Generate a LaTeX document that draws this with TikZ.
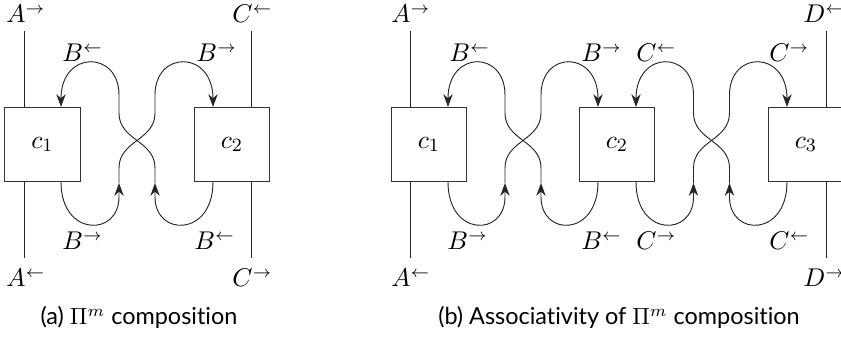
\documentclass[tikz,border=0pt]{standalone}
\usepackage{fontspec}
\setsansfont[Ligatures=NoCommon]{Lato}
\usetikzlibrary{arrows.meta,calc}
\newcommand\xpair[3]{%
  \pgfmathsetmacro\xm{(#1+#2)/2}%
  \pgfmathsetmacro\xa{\xm-18}%
  \pgfmathsetmacro\xb{\xm+18}%
  \coordinate (#3-lb) at (#1,182);
  \coordinate (#3-lt) at (#1,107);
  \coordinate (#3-rb) at (#2,182);
  \coordinate (#3-rt) at (#2,107);
  \coordinate (#3-am) at (\xa,183);
  \coordinate (#3-bm) at (\xb,183);
  \draw[wire,tip] (#3-lb) .. controls (#1,237) and (\xa,237) .. (\xa,197) -- (#3-am);
  \draw[wire,tip] (#3-am) -- (\xa,168) .. controls (\xa,140.5) and (\xb,140.5) .. (\xb,113) -- (\xb,95) .. controls (\xb,50) and (#2,50) .. (#3-rt);
  \draw[wire,tip] (#3-rb) .. controls (#2,237) and (\xb,237) .. (\xb,197) -- (#3-bm);
  \draw[wire,tip] (#3-bm) -- (\xb,168) .. controls (\xb,140.5) and (\xa,140.5) .. (\xa,113) -- (\xa,95) .. controls (\xa,50) and (#1,50) .. (#3-lt);
}
\begin{document}
\begin{tikzpicture}[x=0.427pt,y=-0.427pt,
  box/.style={draw=black!80, line width=0.4pt, minimum width=32.2pt, minimum height=32pt, inner sep=0pt, font=\fontsize{11}{13}\selectfont},
  lab/.style={inner sep=0pt, anchor=base west, font=\fontsize{10.5}{12}\selectfont},
  wire/.style={line width=0.4pt, draw=black!85},
  tip/.style={-{Stealth[length=5.5pt,width=4pt,inset=1.8pt]}},
  captext/.style={inner sep=0pt, anchor=base, font=\sffamily}]
\useasboundingbox (0,0) rectangle (841,339);

% ---------- (a) ----------
\node[box] (L1) at (42.5,144.5) {$c_1$};
\node[box] (L2) at (232,144.5) {$c_2$};
\coordinate (LAt) at (24,31);
\coordinate (LAb) at (24,258);
\coordinate (LCt) at (251,31);
\coordinate (LCb) at (251,258);
\draw[wire] (LAt) -- (LAt |- L1.north);
\draw[wire] (LAb) -- (LAb |- L1.south);
\draw[wire] (LCt) -- (LCt |- L2.north);
\draw[wire] (LCb) -- (LCb |- L2.south);
\xpair{61}{213}{P}
\node[lab] (la1) at (6,23) {$A^{\to}$};
\node[lab] (la2) at (6,287) {$A^{\leftarrow}$};
\node[lab] (la3) at (232,23) {$C^{\leftarrow}$};
\node[lab] (la4) at (232,287) {$C^{\to}$};
\node[lab] (la5) at (62,62) {$B^{\leftarrow}$};
\node[lab] (la6) at (196,62) {$B^{\to}$};
\node[lab] (la7) at (62,250) {$B^{\to}$};
\node[lab] (la8) at (194,250) {$B^{\leftarrow}$};
\node[captext] (capa) at (139,325) {(a) $\Pi^m$ composition};

% ---------- (b) ----------
\node[box] (R1) at (429,144.5) {$c_1$};
\node[box] (R2) at (617,144.5) {$c_2$};
\node[box] (R3) at (806,144.5) {$c_3$};
\coordinate (RAt) at (410,31);
\coordinate (RAb) at (410,258);
\coordinate (RDt) at (826,31);
\coordinate (RDb) at (826,258);
\draw[wire] (RAt) -- (RAt |- R1.north);
\draw[wire] (RAb) -- (RAb |- R1.south);
\draw[wire] (RDt) -- (RDt |- R3.north);
\draw[wire] (RDb) -- (RDb |- R3.south);
\xpair{448}{598}{Q}
\xpair{636}{787}{S}
\node[lab] (lb1) at (391,23) {$A^{\to}$};
\node[lab] (lb2) at (391,287) {$A^{\leftarrow}$};
\node[lab] (lb3) at (803,23) {$D^{\leftarrow}$};
\node[lab] (lb4) at (803,287) {$D^{\to}$};
\node[lab] (lb5) at (449,62) {$B^{\leftarrow}$};
\node[lab] (lb6) at (581,62) {$B^{\to}$};
\node[lab] (lb7) at (636,62) {$C^{\leftarrow}$};
\node[lab] (lb8) at (769,62) {$C^{\to}$};
\node[lab] (lb9) at (447,250) {$B^{\to}$};
\node[lab] (lb10) at (581,250) {$B^{\leftarrow}$};
\node[lab] (lb11) at (636,250) {$C^{\to}$};
\node[lab] (lb12) at (769,250) {$C^{\leftarrow}$};
\node[captext] (capb) at (619,325) {(b) Associativity of $\Pi^m$ composition};
\end{tikzpicture}
\end{document}
